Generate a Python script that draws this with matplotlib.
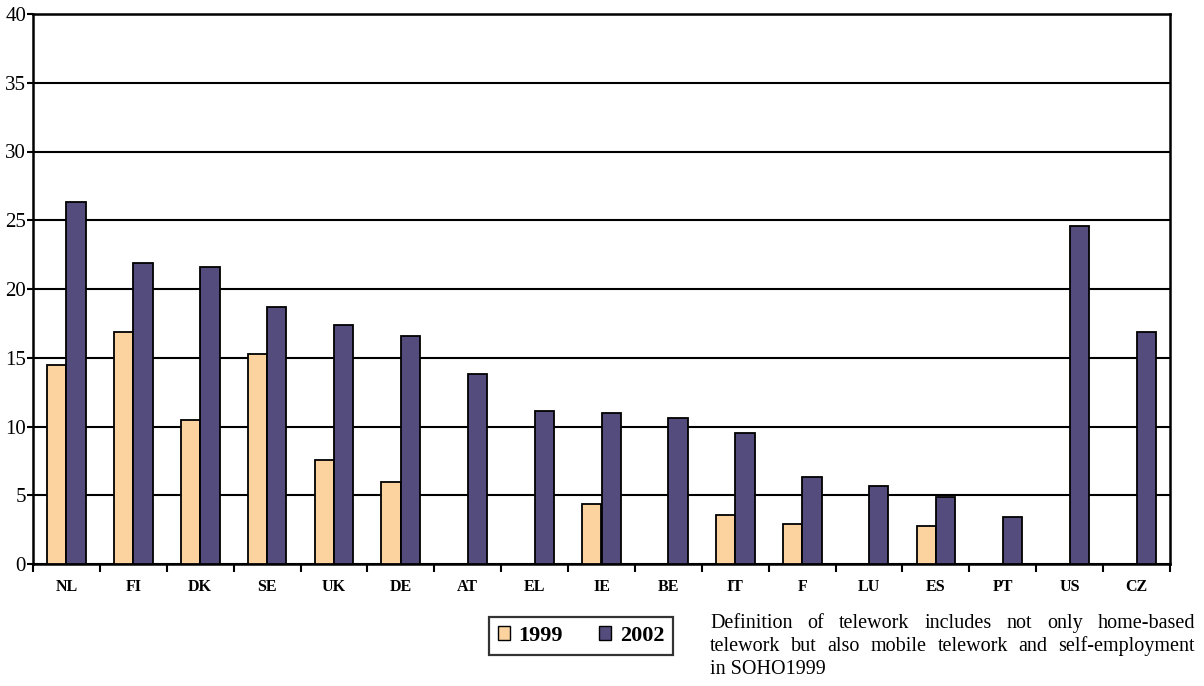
import matplotlib.pyplot as plt
import numpy as np
from matplotlib.patches import Patch

countries = ['NL', 'FI', 'DK', 'SE', 'UK', 'DE', 'AT', 'EL', 'IE', 'BE',
             'IT', 'F', 'LU', 'ES', 'PT', 'US', 'CZ']
v1999 = [14.5, 16.9, 10.5, 15.3, 7.6, 6.0, 0, 0, 4.4, 0,
         3.6, 2.9, 0, 2.8, 0, 0, 0]
v2002 = [26.3, 21.9, 21.6, 18.7, 17.4, 16.6, 13.8, 11.1, 11.0, 10.6,
         9.5, 6.3, 5.65, 4.9, 3.45, 24.6, 16.9]
note_lines = ['Definition of telework includes not only home-based',
              'telework but also mobile telework and self-employment',
              'in SOHO1999']

plt.rcParams['font.family'] = 'Liberation Serif'
c99 = '#fcd29e'
c02 = '#534c7c'

fig = plt.figure(figsize=(12.04, 6.86), dpi=100)
ax = fig.add_axes([33/1204, 1 - 564/686, 1137/1204, 550/686])

idx = np.arange(len(countries))
w = 0.29
ax.bar(idx - w/2, v1999, w, color=c99, edgecolor='black', linewidth=1.3, zorder=3)
ax.bar(idx + w/2, v2002, w, color=c02, edgecolor='black', linewidth=1.3, zorder=3)

ax.set_xlim(-0.5, len(countries) - 0.5)
ax.set_ylim(0, 40)
ax.set_yticks(range(0, 41, 5))
ax.yaxis.grid(True, color='black', linewidth=1.5, zorder=0)
ax.set_axisbelow(True)
ax.set_xticks(idx)
ax.set_xticklabels(countries, fontweight='bold', fontsize=11.5)
ax.set_xticks(np.arange(-0.5, len(countries)), minor=True)
ax.tick_params(axis='x', which='major', length=0, pad=11)
ax.tick_params(axis='x', which='minor', length=6, width=1.5, direction='out')
ax.tick_params(axis='y', length=4, width=1.5, labelsize=15, pad=1)
for s in ax.spines.values():
    s.set_linewidth(1.8)

handles = [Patch(facecolor=c99, edgecolor='black', label='1999'),
           Patch(facecolor=c02, edgecolor='black', label='2002')]
leg = fig.legend(handles=handles, loc='center', bbox_to_anchor=(581/1204, 1 - 636/686),
                 ncol=2, frameon=True, fancybox=False, edgecolor='black',
                 prop={'weight': 'bold', 'size': 16}, handlelength=0.55, handleheight=0.6,
                 handletextpad=0.4, columnspacing=1.6, borderpad=0.4, borderaxespad=0)
leg.get_frame().set_linewidth(1.6)

# justified note text, font size chosen so the widest line fits
fig.canvas.draw()
r = fig.canvas.get_renderer()
x0, x1 = 710, 1195
probe = fig.text(0, 0, note_lines[1], fontsize=10)
fs = 10 * (x1 - x0 - 10) / probe.get_window_extent(r).width
probe.remove()
fs = min(fs, 14.5)
for i, line in enumerate(note_lines):
    y = 1 - (628 + i * 23) / 686
    words = line.split()
    if i == len(note_lines) - 1:
        fig.text(x0 / 1204, y, line, fontsize=fs, va='baseline')
        continue
    ts = [fig.text(0, y, wd, fontsize=fs, va='baseline') for wd in words]
    widths = [t.get_window_extent(r).width for t in ts]
    gap = (x1 - x0 - sum(widths)) / (len(words) - 1)
    x = x0
    for t, wdt in zip(ts, widths):
        t.set_x(x / 1204)
        x += wdt + gap

fig.savefig('out.png', dpi=100)
